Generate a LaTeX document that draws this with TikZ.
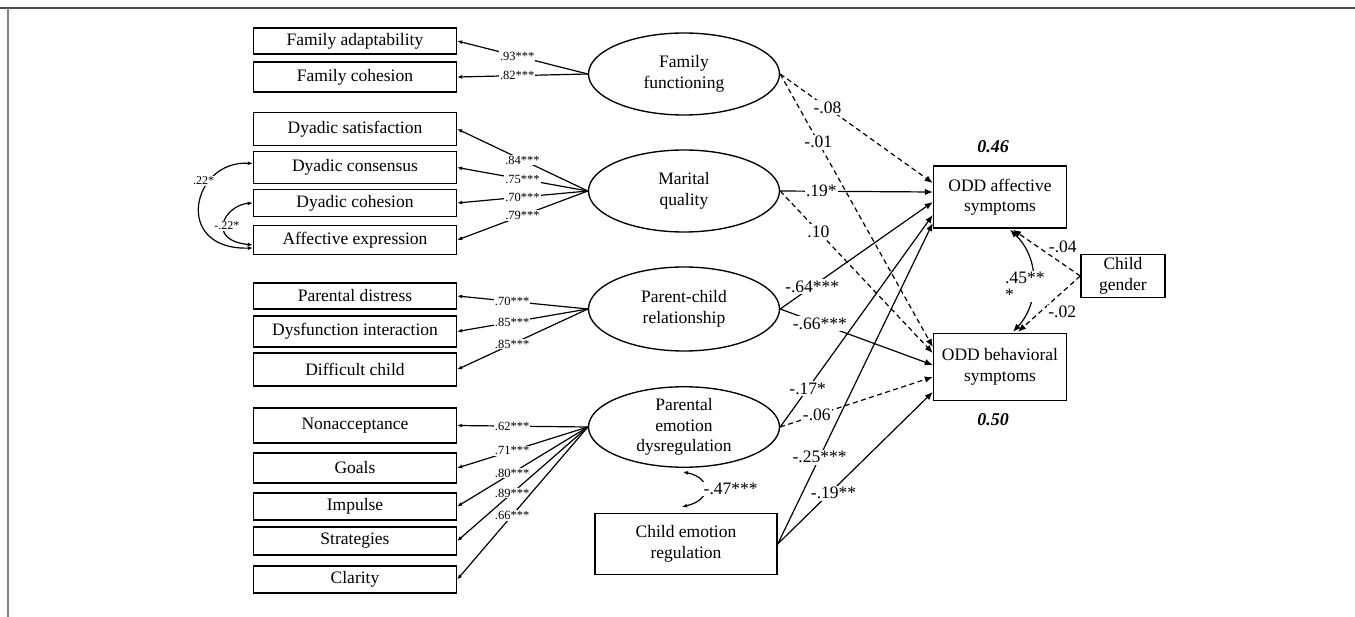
\documentclass[tikz,border=0pt]{standalone}
\usepackage{fontspec}
\setmainfont{Liberation Serif}
\usetikzlibrary{arrows.meta,shapes.geometric,calc}
\newcommand\myMainFont{\fontsize{17.5}{20.5}\selectfont}
\newcommand\mySmallFont{\fontsize{12.5}{14}\selectfont}
\newcommand\myCovFont{\fontsize{12}{14}\selectfont}
\begin{document}
\begin{tikzpicture}[x=1pt,y=-1pt,
  obs/.style={draw, line width=1.45pt, inner sep=0pt, font=\myMainFont, align=center},
  lbox/.style={obs, minimum width=203pt},
  lat/.style={ellipse, draw, line width=1.35pt, inner sep=0pt, minimum width=191pt, minimum height=82pt, font=\myMainFont, align=center},
  load/.style={line width=1.2pt, -{Latex[length=5pt,width=4pt]}},
  reg/.style={line width=1.2pt, -{Latex[length=8pt,width=6.5pt]}},
  regd/.style={reg, dash pattern=on 5pt off 3.5pt},
  ll/.style={fill=white, inner sep=1pt, font=\mySmallFont},
  pl/.style={fill=white, inner sep=1.5pt, font=\myMainFont},
  cl/.style={fill=white, inner sep=1pt, font=\myCovFont},
]
\useasboundingbox (0,0) rectangle (1355,617);
% frame
\draw[line width=2pt, black!70] (0,8.5) -- (1355,8.5);
\draw[line width=2pt, black!50] (7.5,8.5) -- (7.5,617);

% indicator boxes
\node[lbox, minimum height=26pt] (fa) at (355,41) {Family adaptability};
\node[lbox, minimum height=30pt] (fc) at (355,77) {Family cohesion};
\node[lbox, minimum height=33pt] (ds) at (355,129) {Dyadic satisfaction};
\node[lbox, minimum height=32pt] (dcons) at (355,167.5) {Dyadic consensus};
\node[lbox, minimum height=27pt] (dcoh) at (355,203) {Dyadic cohesion};
\node[lbox, minimum height=29pt] (ae) at (355,240) {Affective expression};
\node[lbox, minimum height=26pt] (pd) at (355,296) {Parental distress};
\node[lbox, minimum height=31pt] (di) at (355,331.5) {Dysfunction interaction};
\node[lbox, minimum height=33pt] (dch) at (355,369.5) {Difficult child};
\node[lbox, minimum height=35pt] (non) at (355,425.5) {Nonacceptance};
\node[lbox, minimum height=30pt] (goa) at (355,468) {Goals};
\node[lbox, minimum height=27pt] (imp) at (355,506.5) {Impulse};
\node[lbox, minimum height=28pt] (str) at (355,541) {Strategies};
\node[lbox, minimum height=27pt] (cla) at (355,579.5) {Clarity};

% latent variables
\node[lat] (ff) at (684,74) {Family\\functioning};
\node[lat] (mq) at (684,191) {Marital\\quality};
\node[lat, minimum height=84pt] (pc) at (684,309) {Parent-child\\relationship};
\node[lat, minimum height=80pt] (pe) at (684,427) {Parental\\emotion\\dysregulation};
\node[obs, minimum width=182pt, minimum height=61pt] (cer) at (686,544) {Child emotion\\regulation};

% outcomes
\node[obs, minimum width=133pt, minimum height=62pt] (odda) at (1000,197) {ODD affective\\symptoms};
\node[obs, minimum width=133pt, minimum height=67pt] (oddb) at (1000,367) {ODD behavioral\\symptoms};
\node[obs, minimum width=84pt, minimum height=43pt] (cg) at (1123,276) {Child\\gender};
\node[font=\fontsize{18}{20}\selectfont\bfseries\itshape] (r2a) at (993,147) {0.46};
\node[font=\fontsize{18}{20}\selectfont\bfseries\itshape] (r2b) at (993,420) {0.50};

% loadings
\draw[load] (ff.west) -- (fa.east) node[ll,pos=0.54]{.93***};
\draw[load] (ff.west) -- (fc.east) node[ll,pos=0.54]{.82***};
\draw[load] (mq.west) -- (ds.east) node[ll,pos=0.5]{.84***};
\draw[load] (mq.west) -- (dcons.east) node[ll,pos=0.5]{.75***};
\draw[load] (mq.west) -- (dcoh.east) node[ll,pos=0.5]{.70***};
\draw[load] (mq.west) -- (ae.east) node[ll,pos=0.5]{.79***};
\draw[load] (pc.west) -- (pd.east) node[ll,pos=0.58]{.70***};
\draw[load] (pc.west) -- (di.east) node[ll,pos=0.58]{.85***};
\draw[load] (pc.west) -- (dch.east) node[ll,pos=0.58]{.85***};
\draw[load] (pe.west) -- (non.east) node[ll,pos=0.58]{.62***};
\draw[load] (pe.west) -- (goa.east) node[ll,pos=0.58]{.71***};
\draw[load] (pe.west) -- (imp.east) node[ll,pos=0.58]{.80***};
\draw[load] (pe.west) -- (str.east) node[ll,pos=0.58]{.89***};
\draw[load] (pe.west) -- (cla.east) node[ll,pos=0.58]{.66***};

% residual covariances (left)
\draw[line width=1.2pt, {Latex[length=5pt,width=4pt]}-{Latex[length=5pt,width=4pt]}]
  ($(dcons.west)+(0,-4)$) .. controls (192,160) and (172,250) .. ($(ae.west)+(0,8)$)
  node[cl,pos=0.3,xshift=-7pt]{.22*};
\draw[line width=1.2pt, {Latex[length=5pt,width=4pt]}-{Latex[length=5pt,width=4pt]}]
  (dcoh.west) .. controls (225,205) and (205,240) .. ($(ae.west)+(0,5)$)
  node[cl,pos=0.55,xshift=3pt]{-.22*};

% structural paths
\draw[regd] (ff.east) -- ($(odda.west)+(0,-14)$) node[pl,pos=0.31]{-.08};
\draw[regd] (ff.east) -- ($(oddb.west)+(0,-20)$) node[pl,pos=0.25]{-.01};
\draw[reg]  (mq.east) -- ($(odda.west)+(0,-5)$) node[pl,pos=0.27]{.19*};
\draw[regd] (mq.east) -- ($(oddb.west)+(0,-14)$) node[pl,pos=0.25]{.10};
\draw[reg]  (pc.east) -- ($(odda.west)+(0,5)$) node[pl,pos=0.21]{-.64***};
\draw[reg]  (pc.east) -- ($(oddb.west)+(0,-2)$) node[pl,pos=0.26]{-.66***};
\draw[reg]  (pe.east) -- ($(odda.west)+(0,18)$) node[pl,pos=0.18]{-.17*};
\draw[regd] (pe.east) -- ($(oddb.west)+(0,10)$) node[pl,pos=0.24]{-.06};
\draw[reg]  (cer.east) -- ($(odda.west)+(0,26)$) node[pl,pos=0.27]{-.25***};
\draw[reg]  (cer.east) -- ($(oddb.west)+(0,25)$) node[pl,pos=0.36,yshift=-4pt]{-.19**};

% child gender
\draw[regd] (cg.west) -- ($(odda.south)+(13,1)$) node[pl,pos=0.26,yshift=17pt]{-.04};
\draw[regd] (cg.west) -- ($(oddb.north)+(18,-1)$) node[pl,pos=0.29,yshift=-20pt]{-.02};

% residual correlation of outcomes
\draw[line width=1.2pt, {Latex[length=8pt,width=6.5pt]}-{Latex[length=8pt,width=6.5pt]}]
  ($(odda.south)+(10,1)$) .. controls (1040,258) and (1040,303) .. ($(oddb.north)+(13,-1)$)
  node[pl,pos=0.5,align=left,inner sep=1pt,xshift=-8pt,yshift=-6pt,font=\fontsize{17.5}{17}\selectfont]{.45**\\*};

% correlation parental emotion dysregulation - child emotion regulation
\draw[line width=1.2pt, {Latex[length=5pt,width=4pt]}-{Latex[length=5pt,width=4pt]}]
  ($(pe.south)+(-1,4)$) .. controls (712,478) and (712,500) .. ($(cer.north)+(-4,-6)$)
  node[pl,pos=0.5,anchor=west,xshift=-3pt]{-.47***};
\end{tikzpicture}
\end{document}
